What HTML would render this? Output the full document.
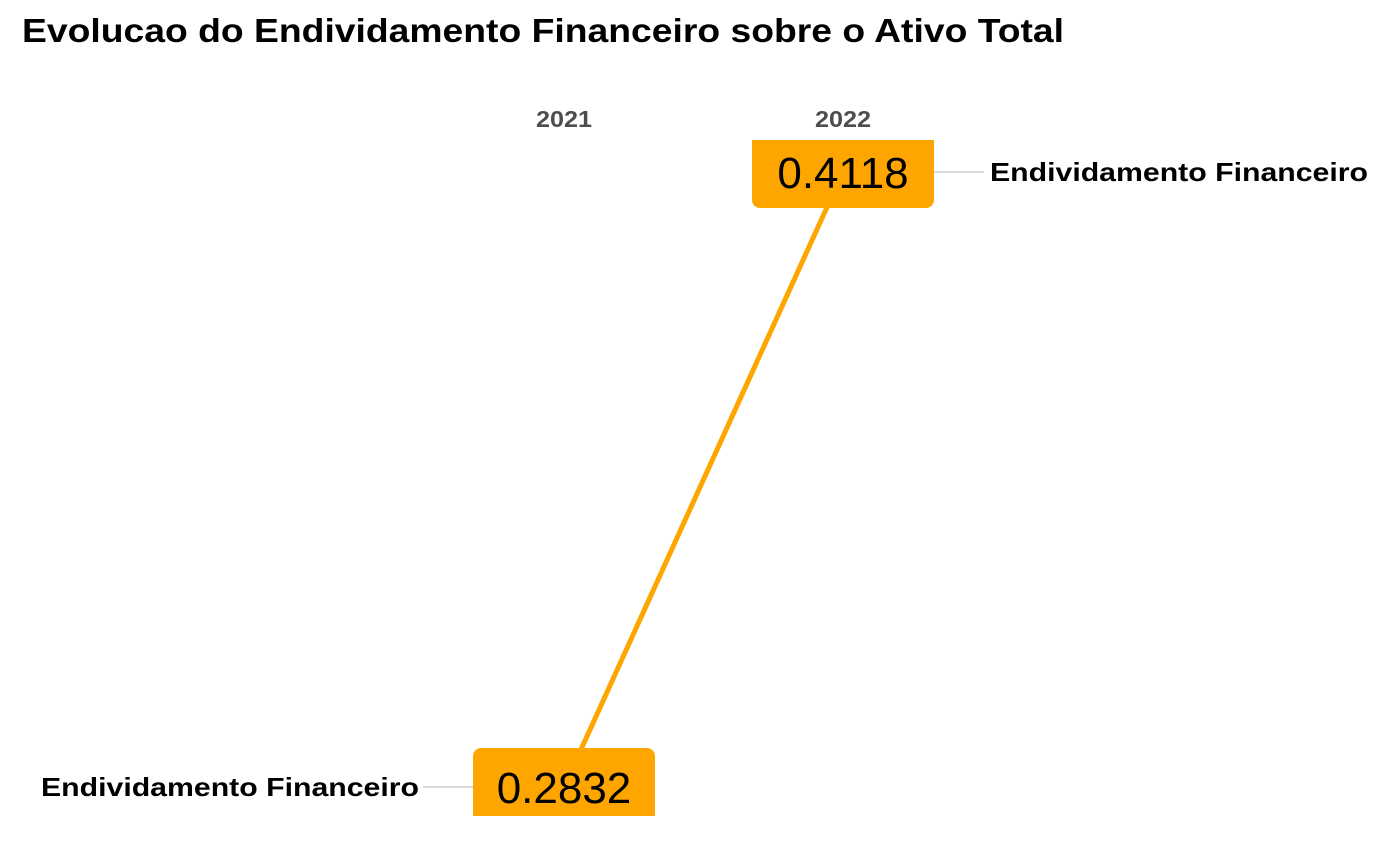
<!DOCTYPE html>
<html><head><meta charset="utf-8"><style>
html,body{margin:0;padding:0;background:#fff;}
svg{display:block;font-family:"Liberation Sans",Arial,sans-serif;}
</style></head><body>
<svg id="chart" width="1400" height="866" viewBox="0 0 1400 866">
<text x="22" y="42" font-size="33" font-weight="bold" fill="#000" textLength="1042" lengthAdjust="spacingAndGlyphs">Evolucao do Endividamento Financeiro sobre o Ativo Total</text>
<defs><clipPath id="panel"><rect x="0" y="140" width="1400" height="676"/></clipPath></defs>
<g id="plot" clip-path="url(#panel)"></g>
<g id="labels"></g>
</svg>
<script>
const years = ["2021","2022"];
const seriesName = "Endividamento Financeiro";
const values = [0.2832, 0.4118];

const ns = "http://www.w3.org/2000/svg";
const xPos = i => 564 + i * 279;
const yScale = v => 787 + (v - 0.2832) * (172 - 787) / (0.4118 - 0.2832);
const plot = document.getElementById('plot');
const labels = document.getElementById('labels');
function mk(tag, attrs, parent){const e=document.createElementNS(ns,tag);for(const k in attrs)e.setAttribute(k,attrs[k]);parent.appendChild(e);return e;}

years.forEach((y,i)=>{
  const t = mk('text',{x:xPos(i),y:127,'text-anchor':'middle','font-size':23,'font-weight':'bold',fill:'#4d4d4d',textLength:56,lengthAdjust:'spacingAndGlyphs'},labels);
  t.textContent = y;
  
  
});

for(let i=0;i<values.length-1;i++){
  const l = mk('line',{x1:xPos(i),y1:yScale(values[i]),x2:xPos(i+1),y2:yScale(values[i+1]),stroke:'#FFA500','stroke-width':5},plot);
  
  
}

values.forEach((v,i)=>{
  const x = xPos(i), y = yScale(v);
  const w = 182;
  const r = mk('rect',{x:x-w/2,y:y-39,width:w,height:75,rx:8,fill:'#FFA500'},plot);
  
  
  const t = mk('text',{x:x,y:y+16,'text-anchor':'middle','font-size':44,fill:'#000'},plot);
  t.textContent = v.toFixed(4);
  
  
  const left = i === 0;
  const cx1 = left ? x - w/2 - 50 : x + w/2;
  const c = mk('line',{x1:cx1,y1:y,x2:cx1+50,y2:y,stroke:'#d9d9d9','stroke-width':2},labels);
  
  
  const s = mk('text',{x: left ? cx1-4 : cx1+56, y:y+9,'text-anchor': left?'end':'start','font-size':26,'font-weight':'bold',fill:'#000',textLength:378,lengthAdjust:'spacingAndGlyphs'},labels);
  s.textContent = seriesName;
  
  
});
</script>
</body></html>
